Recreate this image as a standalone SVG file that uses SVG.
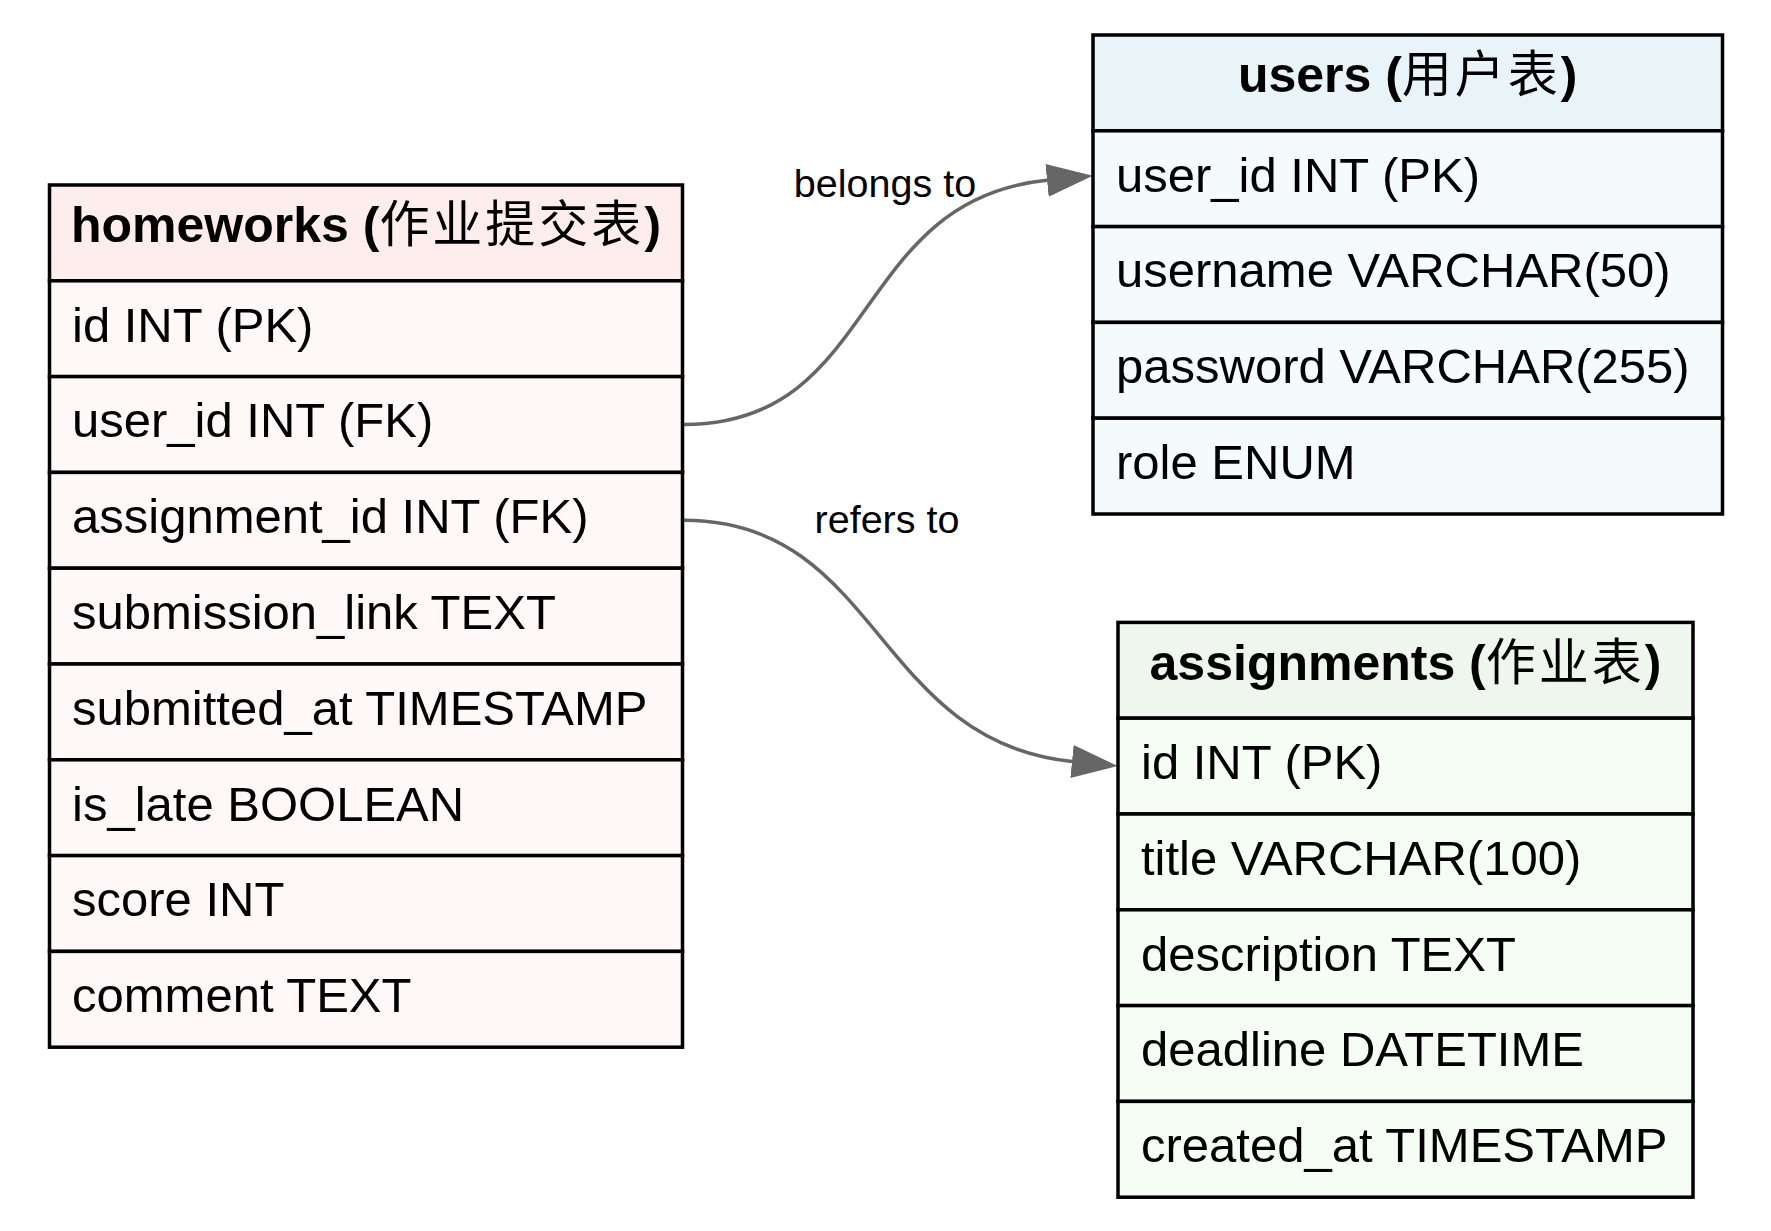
<svg xmlns="http://www.w3.org/2000/svg" width="1771" height="1231" viewBox="0 0 1771 1231">
  <style>
    .cell { stroke: #000000; stroke-width: 3.5; }
    .hw-h { fill: #FDEDEC; }
    .hw-r { fill: #FEF8F8; }
    .us-h { fill: #E8F4F8; }
    .us-r { fill: #F5FAFD; }
    .as-h { fill: #EEF6EE; }
    .as-r { fill: #F5FDF5; }
    .hdr { font-family: "Liberation Sans", Arial, "Noto Sans CJK SC", sans-serif; font-weight: bold; font-size: 50px; fill: #000000; text-anchor: middle; }
    .cjk { font-weight: normal; letter-spacing: 3px; }
    .row { font-family: "Liberation Sans", Arial, "Noto Sans CJK SC", sans-serif; font-size: 49px; fill: #000000; }
    .lbl { font-family: "Liberation Sans", Arial, sans-serif; font-size: 39.5px; fill: #000000; text-anchor: middle; }
    .edge { fill: none; stroke: #666666; stroke-width: 3.5; }
  </style>
  <defs>
    <marker id="arrow" markerUnits="userSpaceOnUse" markerWidth="47" markerHeight="34" refX="0" refY="16.5" orient="auto" viewBox="0 0 47 34">
      <path d="M0,0 L46,16.5 L0,33 z" fill="#666666"/>
    </marker>
  </defs>
  <rect x="0" y="0" width="1771" height="1231" fill="#FFFFFF"/>

  <g id="connectors">
    <path class="edge" d="M684,424.5 C880,424.5 850,200 1047,180.3" marker-end="url(#arrow)"/>
    <path class="edge" d="M684,520.3 C880,520.3 875,741.8 1072,761.5" marker-end="url(#arrow)"/>
    <text class="lbl" x="885" y="197">belongs to</text>
    <text class="lbl" x="887" y="533">refers to</text>
  </g>

  <g id="homeworks">
    <rect class="cell hw-h" x="49.5" y="185" width="633" height="95.8"/>
    <rect class="cell hw-r" x="49.5" y="280.8" width="633" height="95.8"/>
    <rect class="cell hw-r" x="49.5" y="376.6" width="633" height="95.8"/>
    <rect class="cell hw-r" x="49.5" y="472.4" width="633" height="95.8"/>
    <rect class="cell hw-r" x="49.5" y="568.2" width="633" height="95.8"/>
    <rect class="cell hw-r" x="49.5" y="664" width="633" height="95.8"/>
    <rect class="cell hw-r" x="49.5" y="759.8" width="633" height="95.8"/>
    <rect class="cell hw-r" x="49.5" y="855.6" width="633" height="95.8"/>
    <rect class="cell hw-r" x="49.5" y="951.4" width="633" height="95.8"/>
    <text class="hdr" x="366" y="242">homeworks (<tspan class="cjk">作业提交表</tspan>)</text>
    <text class="row" x="72" y="341.5">id INT (PK)</text>
    <text class="row" x="72" y="437.3">user_id INT (FK)</text>
    <text class="row" x="72" y="533.1">assignment_id INT (FK)</text>
    <text class="row" x="72" y="628.9">submission_link TEXT</text>
    <text class="row" x="72" y="724.7">submitted_at TIMESTAMP</text>
    <text class="row" x="72" y="820.5">is_late BOOLEAN</text>
    <text class="row" x="72" y="916.3">score INT</text>
    <text class="row" x="72" y="1012.1">comment TEXT</text>
  </g>

  <g id="users">
    <rect class="cell us-h" x="1093" y="35" width="629.5" height="95.8"/>
    <rect class="cell us-r" x="1093" y="130.8" width="629.5" height="95.8"/>
    <rect class="cell us-r" x="1093" y="226.6" width="629.5" height="95.8"/>
    <rect class="cell us-r" x="1093" y="322.4" width="629.5" height="95.8"/>
    <rect class="cell us-r" x="1093" y="418.2" width="629.5" height="95.8"/>
    <text class="hdr" x="1407.7" y="92">users (<tspan class="cjk">用户表</tspan>)</text>
    <text class="row" x="1116" y="191.5">user_id INT (PK)</text>
    <text class="row" x="1116" y="287.3">username VARCHAR(50)</text>
    <text class="row" x="1116" y="383.1">password VARCHAR(255)</text>
    <text class="row" x="1116" y="478.9">role ENUM</text>
  </g>

  <g id="assignments">
    <rect class="cell as-h" x="1118" y="622.4" width="575" height="95.8"/>
    <rect class="cell as-r" x="1118" y="718.2" width="575" height="95.8"/>
    <rect class="cell as-r" x="1118" y="814" width="575" height="95.8"/>
    <rect class="cell as-r" x="1118" y="909.8" width="575" height="95.8"/>
    <rect class="cell as-r" x="1118" y="1005.6" width="575" height="95.8"/>
    <rect class="cell as-r" x="1118" y="1101.4" width="575" height="95.8"/>
    <text class="hdr" x="1405.5" y="679.5">assignments (<tspan class="cjk">作业表</tspan>)</text>
    <text class="row" x="1141" y="778.9">id INT (PK)</text>
    <text class="row" x="1141" y="874.7">title VARCHAR(100)</text>
    <text class="row" x="1141" y="970.5">description TEXT</text>
    <text class="row" x="1141" y="1066.3">deadline DATETIME</text>
    <text class="row" x="1141" y="1162.1">created_at TIMESTAMP</text>
  </g>
</svg>
